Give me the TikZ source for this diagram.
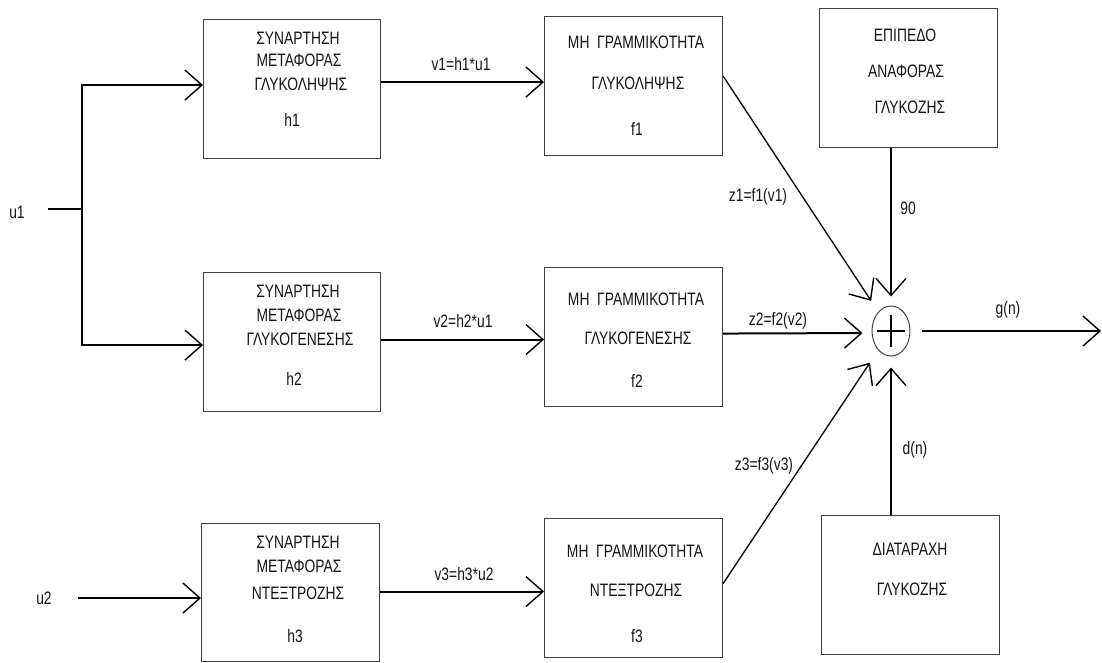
\documentclass[tikz,border=0pt]{standalone}
\usepackage{fontspec}
\setmainfont[FakeStretch=0.77]{Liberation Sans}
\usetikzlibrary{arrows.meta,shapes.geometric}
\begin{document}
\begin{tikzpicture}[x=1pt,y=-1pt,
  box/.style={draw=black!75, line width=1.1pt, anchor=north west, inner sep=0pt},
  txt/.style={font=\fontsize{18}{18}\selectfont, text=black!92, inner sep=0pt, anchor=base},
  lbl/.style={font=\fontsize{18}{18}\selectfont, text=black!92, inner sep=0pt},
  arr/.style={-{Straight Barb[length=17pt,width=30pt,line width=1.4pt]}, line width=2pt},
  thinarr/.style={-{Straight Barb[length=17pt,width=30pt,line width=1.4pt]}, line width=1.3pt},
]
\useasboundingbox (0,0) rectangle (1102,662);

% boxes
\node[box, minimum width=177pt, minimum height=139pt] (h1) at (203,19) {};
\node[box, minimum width=177pt, minimum height=139pt] (h2) at (203,272) {};
\node[box, minimum width=178pt, minimum height=138pt] (h3) at (201,523) {};
\node[box, minimum width=178pt, minimum height=139pt] (f1) at (544,16) {};
\node[box, minimum width=178pt, minimum height=139pt] (f2) at (544,267) {};
\node[box, minimum width=178pt, minimum height=139pt] (f3) at (544,518) {};
\node[box, minimum width=178pt, minimum height=139pt] (ref) at (819,8) {};
\node[box, minimum width=178pt, minimum height=139pt] (dist) at (821,515) {};
\node[draw=black!75, line width=1pt, ellipse, minimum width=38pt, minimum height=50pt, inner sep=0pt] (sum) at (891,331) {};
\draw[line width=2pt] ([xshift=-14pt]sum.center) -- ([xshift=14pt]sum.center);
\draw[line width=2pt] ([yshift=16pt]sum.center) -- ([yshift=-16pt]sum.center);

% box texts
\node[txt] (h1a) at (298,44) {ΣΥΝΑΡΤΗΣΗ};
\node[txt] (h1b) at (299,66) {ΜΕΤΑΦΟΡΑΣ};
\node[txt] (h1c) at (301,90) {ΓΛΥΚΟΛΗΨΗΣ};
\node[txt] (h1d) at (292,126) {h1};

\node[txt] (h2a) at (298,297) {ΣΥΝΑΡΤΗΣΗ};
\node[txt] (h2b) at (299,321) {ΜΕΤΑΦΟΡΑΣ};
\node[txt] (h2c) at (300,345) {ΓΛΥΚΟΓΕΝΕΣΗΣ};
\node[txt] (h2d) at (294,385) {h2};

\node[txt] (h3a) at (298,548) {ΣΥΝΑΡΤΗΣΗ};
\node[txt] (h3b) at (299,572) {ΜΕΤΑΦΟΡΑΣ};
\node[txt] (h3c) at (298,599) {ΝΤΕΞΤΡΟΖΗΣ};
\node[txt] (h3d) at (295,642) {h3};

\node[txt] (f1a) at (636,48) {ΜΗ\ \ ΓΡΑΜΜΙΚΟΤΗΤΑ};
\node[txt] (f1b) at (638,89) {ΓΛΥΚΟΛΗΨΗΣ};
\node[txt] (f1c) at (637,135) {f1};

\node[txt] (f2a) at (636,305) {ΜΗ\ \ ΓΡΑΜΜΙΚΟΤΗΤΑ};
\node[txt] (f2b) at (638,344) {ΓΛΥΚΟΓΕΝΕΣΗΣ};
\node[txt] (f2c) at (637,387) {f2};

\node[txt] (f3a) at (635,557) {ΜΗ\ \ ΓΡΑΜΜΙΚΟΤΗΤΑ};
\node[txt] (f3b) at (636,596) {ΝΤΕΞΤΡΟΖΗΣ};
\node[txt] (f3c) at (637,642) {f3};

\node[txt] (ra) at (905,41) {ΕΠΙΠΕΔΟ};
\node[txt] (rb) at (906,77) {ΑΝΑΦΟΡΑΣ};
\node[txt] (rc) at (910,113) {ΓΛΥΚΟΖΗΣ};

\node[txt] (da) at (910,555) {ΔΙΑΤΑΡΑΧΗ};
\node[txt] (db) at (912,595) {ΓΛΥΚΟΖΗΣ};

% inputs
\coordinate (u1in) at (48,209);
\coordinate (j) at (82,209);
\coordinate (u2in) at (78,598);
\coordinate (out) at (1101,331);
\draw[line width=2pt] (u1in) -- (j);
\draw[arr] (j) |- ([yshift=4pt]h1.west);
\draw[arr] (j) |- ([yshift=-3pt]h2.west);
\draw[arr] (u2in) -- (u2in -| h3.west);

% h -> f
\path ([yshift=7pt]h1.east) coordinate (a1);
\path ([yshift=2.5pt]h2.east) coordinate (a2);
\path ([yshift=1pt]h3.east) coordinate (a3);
\draw[arr] (a1) -- (a1 -| f1.west);
\draw[arr] (a2) -- (a2 -| f2.west);
\draw[arr] (a3) -- (a3 -| f3.west);

% f -> sum
\draw[thinarr, shorten >=13pt] ([yshift=10pt]f1.east) -- (sum);
\draw[arr, shorten >=9pt] ([yshift=3.5pt]f2.east) -- ([yshift=-2pt]sum.west);
\draw[thinarr, shorten >=15pt] ([yshift=4.5pt]f3.east) -- (sum);
\draw[thinarr, line width=1.6pt, shorten >=9pt] (ref.south -| sum) -- (sum.north);
\draw[thinarr, line width=1.6pt, shorten >=11pt] (dist.north -| sum) -- (sum.south);
\draw[arr, shorten <=11pt] (sum.east) -- (out);

% labels
\node[lbl] (lu1) at (17,212) {u1};
\node[lbl] (lu2) at (44,598) {u2};
\node[lbl] (lv1) at (461,64) {v1=h1*u1};
\node[lbl] (lv2) at (463,321) {v2=h2*u1};
\node[lbl] (lv3) at (464,574) {v3=h3*u2};
\node[lbl] (lz1) at (758,197) {z1=f1(v1)};
\node[lbl] (lz2) at (778,321) {z2=f2(v2)};
\node[lbl] (lz3) at (764,466) {z3=f3(v3)};
\node[lbl] (l90) at (908,208) {90};
\node[lbl] (lg) at (1008,310) {g(n)};
\node[lbl] (ld) at (915,450) {d(n)};
\end{tikzpicture}
\end{document}
